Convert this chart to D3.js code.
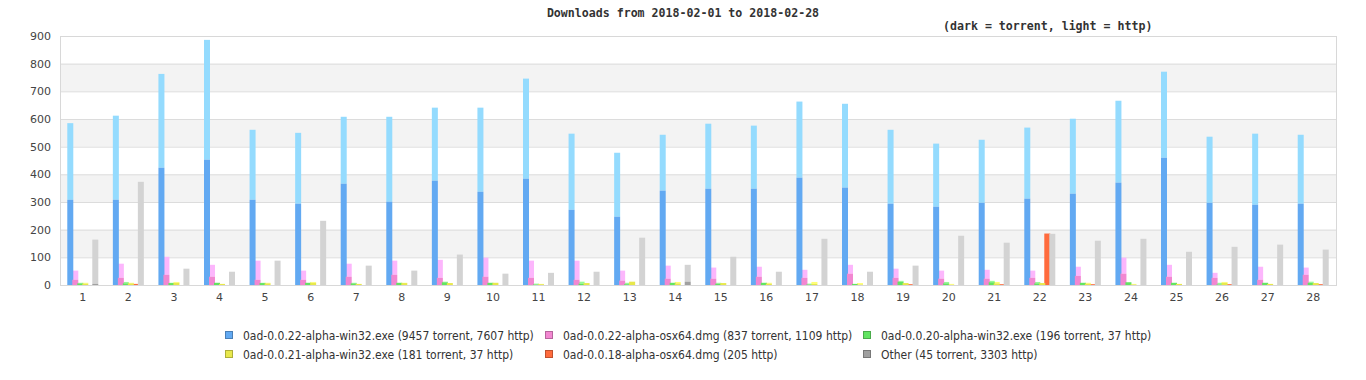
<!DOCTYPE html>
<html>
<head>
<meta charset="utf-8">
<script src="https://cdn.jsdelivr.net/npm/d3@7"></script>
<style>
  body { margin: 0; background: #fff; }
  .title { font-family: "DejaVu Sans Mono", monospace; font-weight: bold; font-size: 11.6px; fill: #333; }
  .tick text { font-family: "DejaVu Sans", sans-serif; font-size: 11px; fill: #444; }
  .legend text { font-family: "DejaVu Sans Condensed", "DejaVu Sans", sans-serif; font-stretch: condensed; font-size: 12px; fill: #333; }
</style>
</head>
<body>
<div id="chart"></div>
<script>
// days of the month
var days = d3.range(1, 29);

// series names (legend labels)
var seriesNames = [
    "0ad-0.0.22-alpha-win32.exe (9457 torrent, 7607 http)",
    "0ad-0.0.22-alpha-osx64.dmg (837 torrent, 1109 http)",
    "0ad-0.0.20-alpha-win32.exe (196 torrent, 37 http)",
    "0ad-0.0.21-alpha-win32.exe (181 torrent, 37 http)",
    "0ad-0.0.18-alpha-osx64.dmg (205 http)",
    "Other (45 torrent, 3303 http)"
];

// torrent / http downloads per day for each file
var win22Torrent = [308,308,424,453,308,294,366,301,377,337,384,272,247,341,348,348,388,352,294,283,297,312,330,370,460,297,290,294];
var win22Http    = [277,304,339,433,253,256,242,307,264,304,362,275,231,202,235,228,275,303,267,228,228,257,271,296,311,239,257,249];
var osx22Torrent = [19,26,37,30,19,19,30,37,26,30,26,19,16,23,23,30,26,41,26,23,23,26,33,41,30,26,19,37];
var osx22Http    = [33,51,65,43,69,33,47,51,65,69,62,69,36,47,40,36,29,32,33,29,32,26,33,58,43,18,47,26];
var win20Torrent = [6,6,7,8,7,8,6,8,10,8,2,5,3,8,5,8,2,4,12,6,10,6,8,10,8,2,8,8];
var win20Http    = [2,5,1,0,1,0,2,0,2,0,3,7,5,0,3,0,3,0,3,5,5,5,0,0,0,6,0,4];
var win21Torrent = [5,6,8,4,6,8,4,7,7,8,3,7,12,6,7,5,4,2,7,1,6,7,5,2,4,8,4,7];
var win21Http    = [3,2,3,0,2,3,0,1,0,0,1,0,0,5,0,3,7,5,0,3,5,0,3,2,0,3,0,0];
var osx18Torrent = [0,0,0,0,0,0,0,0,0,0,0,0,0,0,0,0,0,0,0,0,0,0,0,0,0,0,0,0];
var osx18Http    = [0,4,0,0,0,0,0,0,0,0,0,0,0,0,0,0,0,0,3,0,3,186,3,0,0,3,0,3];
var otherTorrent = [4,0,0,0,0,0,0,0,0,0,0,0,0,12,0,0,0,0,0,0,0,0,0,0,0,0,0,0];
var otherHttp    = [160,373,59,48,88,232,70,52,110,41,44,48,171,61,102,48,167,48,70,178,153,185,160,167,120,138,146,128];

var yTicks = [0,100,200,300,400,500,600,700,800,900];

function init() {
    var w = 1366, h = 380;
    var left = 60, right = 1336, top = 36, bottom = 285;

    var torrent = [win22Torrent, osx22Torrent, win20Torrent, win21Torrent, osx18Torrent, otherTorrent];
    var http = [win22Http, osx22Http, win20Http, win21Http, osx18Http, otherHttp];
    var darkColors = ["#62a9f2", "#f287d1", "#62e462", "#e8e84c", "#ff6b3d", "#a0a0a0"];
    var lightColors = ["#94dbfe", "#fcb6fc", "#96fa96", "#ffff73", "#ff6b3d", "#d3d3d3"];

    var svg = d3.select("#chart").append("svg")
        .attr("width", w)
        .attr("height", h);

    var xScale = d3.scaleBand().domain(days).range([left, right]);
    var x1 = d3.scaleBand().domain(d3.range(6)).range([-15.5, 14.5]);
    var yScale = d3.scaleLinear().domain([0, 900]).range([bottom, top]);

    // alternating bands
    svg.selectAll("rect.band")
        .data([100, 300, 500, 700])
        .enter().append("rect")
        .attr("class", "band")
        .attr("x", left)
        .attr("width", right - left)
        .attr("y", function (d) { return yScale(d + 100); })
        .attr("height", function (d) { return yScale(d) - yScale(d + 100); })
        .attr("fill", "#f3f3f3");

    // grid lines
    svg.selectAll("line.grid")
        .data(yTicks)
        .enter().append("line")
        .attr("class", "grid")
        .attr("x1", left).attr("x2", right)
        .attr("y1", function (d) { return yScale(d) + 0.5; })
        .attr("y2", function (d) { return yScale(d) + 0.5; })
        .attr("stroke", "#dcdcdc");

    // bars: one stacked pair (torrent + http) per file per day
    var rows = [];
    days.forEach(function (day, di) {
        for (var s = 0; s < 6; s++) {
            rows.push({ day: day, s: s, t: torrent[s][di], hp: http[s][di] });
        }
    });

    var groups = svg.append("g");
    groups.selectAll("rect.http")
        .data(rows.filter(function (d) { return d.hp > 0; }))
        .enter().append("rect")
        .attr("x", function (d) { return xScale(d.day) + xScale.bandwidth() / 2 + x1(d.s); })
        .attr("width", x1.bandwidth() + 1)
        .attr("y", function (d) { return yScale(d.t + d.hp); })
        .attr("height", function (d) { return yScale(d.t) - yScale(d.t + d.hp); })
        .attr("fill", function (d) { return lightColors[d.s]; });
    groups.selectAll("rect.torrent")
        .data(rows.filter(function (d) { return d.t > 0; }))
        .enter().append("rect")
        .attr("x", function (d) { return xScale(d.day) + xScale.bandwidth() / 2 + x1(d.s); })
        .attr("width", x1.bandwidth() + 1)
        .attr("y", function (d) { return yScale(d.t); })
        .attr("height", function (d) { return yScale(0) - yScale(d.t); })
        .attr("fill", function (d) { return darkColors[d.s]; });

    // frame
    svg.append("rect")
        .attr("x", left + 0.5).attr("y", top + 0.5)
        .attr("width", right - left).attr("height", bottom - top)
        .attr("fill", "none")
        .attr("stroke", "#d8d8d8");

    // axes
    var yAxis = svg.append("g")
        .attr("transform", "translate(" + left + ",0)")
        .call(d3.axisLeft(yScale).tickValues(yTicks).tickSize(0).tickPadding(9));
    yAxis.select(".domain").remove();

    var xAxis = svg.append("g")
        .attr("transform", "translate(0," + bottom + ")")
        .call(d3.axisBottom(xScale).tickSize(0).tickPadding(8));
    xAxis.select(".domain").remove();

    // titles
    svg.append("text").attr("class", "title")
        .attr("x", 683).attr("y", 17)
        .attr("text-anchor", "middle")
        .text("Downloads from 2018-02-01 to 2018-02-28");
    svg.append("text").attr("class", "title")
        .attr("x", 943).attr("y", 30)
        .text("(dark = torrent, light = http)");

    // legend
    var legendX = [225, 545, 863];
    var legend = svg.append("g").attr("class", "legend");
    seriesNames.forEach(function (name, i) {
        var gx = legendX[i % 3];
        var gy = 331 + Math.floor(i / 3) * 19;
        legend.append("rect")
            .attr("x", gx + 0.5).attr("y", gy + 0.5)
            .attr("width", 7).attr("height", 7)
            .attr("fill", darkColors[i])
            .attr("stroke", d3.color(darkColors[i]).darker(0.8));
        legend.append("text")
            .attr("x", gx + 18).attr("y", gy + 8.5)
            .text(name);
    });
}

window.onload = init;
</script>
</body>
</html>
